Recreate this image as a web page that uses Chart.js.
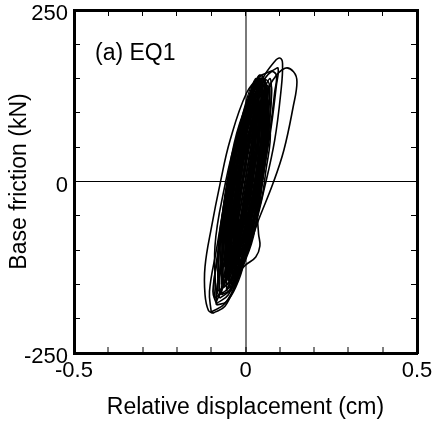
<!DOCTYPE html>
<html><head><meta charset="utf-8">
<script src="https://cdn.jsdelivr.net/npm/chart.js@4.4.1/dist/chart.umd.min.js"></script>
<style>html,body{margin:0;padding:0;background:#fff;overflow:hidden}canvas{display:block}</style>
</head><body>
<canvas id="c" width="432" height="421"></canvas>
<script>
// ---- text / ticks ----
const panelLabel = '(a) EQ1';
const xTitle = 'Relative displacement (cm)';
const yTitle = 'Base friction (kN)';
const xTickLabels = [-0.5, 0, 0.5];
const yTickLabels = [-250, 0, 250];

// ---- hysteresis loops: [displacement (cm), friction (kN)] ----
const loopA = [[-0.100,-190],[-0.060,-178],[-0.020,-140],[0.020,-80],[0.055,-10],[0.085,60],[0.103,130],[0.108,172],[0.100,180],[0.085,175],[0.050,150],[0.010,100],[-0.030,40],[-0.060,-30],[-0.085,-100],[-0.105,-160],[-0.100,-190]];
const loopB = [[-0.040,-150],[0.000,-110],[0.035,-60],[0.080,-3],[0.112,46],[0.139,109],[0.150,145],[0.140,160],[0.115,165],[0.080,148],[0.040,110],[0.000,50],[-0.030,-20],[-0.055,-90],[-0.055,-130],[-0.040,-150]];
const loopC = [[-0.095,-192],[-0.060,-182],[-0.030,-150],[0.000,-110],[0.030,-50],[0.055,20],[0.075,80],[0.090,140],[0.095,165],[0.080,162],[0.042,153],[0.003,129],[-0.045,60],[-0.074,-3],[-0.099,-66],[-0.118,-124],[-0.118,-165],[-0.108,-188],[-0.095,-192]];
const loopD = [[-0.085,-178],[-0.050,-165],[-0.020,-130],[0.015,-70],[0.045,0],[0.070,70],[0.085,130],[0.090,155],[0.075,160],[0.045,140],[0.010,95],[-0.025,30],[-0.055,-40],[-0.080,-110],[-0.095,-160],[-0.085,-178]];
const loopE = [[-0.075,-170],[-0.045,-158],[-0.010,-110],[0.020,-50],[0.045,20],[0.065,90],[0.070,140],[0.058,148],[0.035,130],[0.000,80],[-0.030,10],[-0.055,-60],[-0.075,-130],[-0.082,-160],[-0.075,-170]];
const loopF = [[-0.065,-155],[-0.035,-140],[0.000,-122],[0.030,-110],[0.042,-94],[0.038,-76],[0.035,-40],[0.050,30],[0.060,100],[0.058,140],[0.045,150],[0.025,135],[-0.005,90],[-0.035,20],[-0.055,-50],[-0.068,-120],[-0.065,-155]];
const loopG = [[-0.090,-170],[-0.040,-150],[0.000,-95],[0.030,-20],[0.050,60],[0.060,120],[0.055,150],[0.030,140],[0.000,100],[-0.035,40],[-0.062,-30],[-0.080,-100],[-0.092,-150],[-0.090,-170]];
const loopH = [[-0.080,-160],[-0.035,-140],[0.005,-80],[0.035,0],[0.055,80],[0.060,135],[0.050,150],[0.020,130],[-0.015,85],[-0.045,20],[-0.065,-50],[-0.080,-120],[-0.080,-160]];
const lowU1 = [[-0.070,-165],[-0.045,-158],[-0.020,-135],[0.000,-100],[0.010,-70],[-0.020,-60],[-0.045,-85],[-0.065,-125],[-0.070,-165]];
const lowU2 = [[-0.085,-180],[-0.055,-175],[-0.025,-150],[-0.005,-120],[0.005,-90],[-0.030,-85],[-0.060,-115],[-0.082,-150],[-0.085,-180]];
const core1 = [[-0.040,-130],[0.010,-60],[0.035,10],[0.050,80],[0.040,150],[-0.010,80],[-0.035,10],[-0.050,-60],[-0.040,-130]];
const core2 = [[-0.050,-140],[-0.004,-71],[0.020,-2],[0.036,66],[0.030,135],[-0.016,66],[-0.040,-2],[-0.056,-71],[-0.050,-140]];
const core3 = [[-0.030,-120],[0.010,-54],[0.033,13],[0.047,79],[0.045,145],[0.005,79],[-0.017,13],[-0.032,-54],[-0.030,-120]];
const core4 = [[-0.060,-125],[-0.013,-64],[0.012,-3],[0.030,59],[0.025,120],[-0.022,59],[-0.048,-3],[-0.065,-64],[-0.060,-125]];
const core5 = [[-0.035,-110],[-0.001,-51],[0.020,8],[0.035,66],[0.035,125],[0.001,66],[-0.020,8],[-0.035,-51],[-0.035,-110]];
const core6 = [[-0.045,-150],[0.013,-78],[0.043,-5],[0.060,68],[0.050,140],[-0.008,68],[-0.037,-5],[-0.055,-78],[-0.045,-150]];
const core7 = [[-0.020,-100],[0.010,-48],[0.028,5],[0.040,58],[0.040,110],[0.010,58],[-0.008,5],[-0.020,-48],[-0.020,-100]];
const core8 = [[-0.055,-135],[0.008,-63],[0.040,10],[0.058,83],[0.045,155],[-0.018,83],[-0.050,10],[-0.068,-63],[-0.055,-135]];
const core9 = [[-0.040,-115],[-0.006,-61],[0.012,-8],[0.024,46],[0.020,100],[-0.014,46],[-0.032,-8],[-0.044,-61],[-0.040,-115]];
const core10 = [[-0.025,-135],[0.018,-69],[0.041,-3],[0.055,64],[0.050,130],[0.007,64],[-0.015,-3],[-0.030,-69],[-0.025,-135]];
const core11 = [[-0.050,-120],[-0.009,-53],[0.015,15],[0.031,83],[0.030,150],[-0.011,83],[-0.035,15],[-0.051,-53],[-0.050,-120]];
const core12 = [[-0.030,-90],[-0.002,-45],[0.015,0],[0.028,45],[0.030,90],[0.002,45],[-0.015,0],[-0.028,-45],[-0.030,-90]];
const core13 = [[-0.075,-165],[-0.018,-89],[0.015,-13],[0.038,64],[0.035,140],[-0.022,64],[-0.055,-13],[-0.078,-89],[-0.075,-165]];
const core14 = [[-0.065,-150],[-0.013,-76],[0.017,-3],[0.040,71],[0.040,145],[-0.012,71],[-0.043,-3],[-0.065,-76],[-0.065,-150]];
const core15 = [[-0.085,-175],[-0.013,-94],[0.027,-13],[0.054,69],[0.050,150],[-0.022,69],[-0.063,-13],[-0.089,-94],[-0.085,-175]];
const core16 = [[-0.055,-145],[-0.015,-76],[0.007,-8],[0.022,61],[0.020,130],[-0.020,61],[-0.043,-8],[-0.057,-76],[-0.055,-145]];
const core17 = [[-0.045,-125],[0.006,-59],[0.035,8],[0.056,74],[0.055,140],[0.004,74],[-0.025,8],[-0.046,-59],[-0.045,-125]];
const core18 = [[-0.060,-140],[-0.019,-68],[0.007,5],[0.028,78],[0.035,150],[-0.006,78],[-0.033,5],[-0.053,-68],[-0.060,-140]];
const core19 = [[-0.030,-140],[0.019,-74],[0.043,-8],[0.056,59],[0.045,125],[-0.004,59],[-0.027,-8],[-0.041,-74],[-0.030,-140]];
const core20 = [[-0.050,-110],[0.006,-49],[0.035,13],[0.052,74],[0.040,135],[-0.016,74],[-0.045,13],[-0.062,-49],[-0.050,-110]];
const core21 = [[-0.040,-145],[-0.013,-73],[0.007,0],[0.023,73],[0.030,145],[0.003,73],[-0.017,0],[-0.033,-73],[-0.040,-145]];
const core22 = [[-0.070,-150],[-0.022,-85],[0.005,-20],[0.023,45],[0.020,110],[-0.029,45],[-0.055,-20],[-0.074,-85],[-0.070,-150]];
const core23 = [[-0.035,-125],[0.007,-56],[0.033,13],[0.050,81],[0.050,150],[0.008,81],[-0.017,13],[-0.035,-56],[-0.035,-125]];
const core24 = [[-0.055,-160],[-0.004,-86],[0.025,-13],[0.046,61],[0.045,135],[-0.006,61],[-0.035,-13],[-0.056,-86],[-0.055,-160]];
const wide1 = [[-0.035,-140],[0.026,-68],[0.051,5],[0.067,78],[0.048,150],[-0.013,78],[-0.039,5],[-0.054,-68],[-0.035,-140]];
const wide2 = [[-0.024,-120],[0.026,-55],[0.048,10],[0.063,75],[0.050,140],[0.000,75],[-0.022,10],[-0.037,-55],[-0.024,-120]];
const wide3 = [[-0.043,-150],[0.013,-80],[0.037,-10],[0.053,60],[0.037,130],[-0.019,60],[-0.043,-10],[-0.059,-80],[-0.043,-150]];
const wide4 = [[-0.016,-110],[0.027,-53],[0.046,5],[0.060,63],[0.049,120],[0.006,63],[-0.014,5],[-0.027,-53],[-0.016,-110]];
const wide5 = [[-0.040,-130],[0.007,-59],[0.031,13],[0.048,84],[0.041,155],[-0.006,84],[-0.029,13],[-0.047,-59],[-0.040,-130]];
const wide6 = [[-0.024,-100],[0.038,-41],[0.060,18],[0.072,76],[0.044,135],[-0.018,76],[-0.040,18],[-0.052,-41],[-0.024,-100]];
const wide7 = [[-0.047,-140],[0.003,-78],[0.024,-15],[0.038,48],[0.024,110],[-0.025,48],[-0.046,-15],[-0.061,-78],[-0.047,-140]];
const wide8 = [[-0.019,-125],[0.023,-58],[0.045,10],[0.062,78],[0.058,145],[0.017,78],[-0.005,10],[-0.022,-58],[-0.019,-125]];
const wide9 = [[-0.033,-145],[0.022,-78],[0.045,-10],[0.060,58],[0.044,125],[-0.012,58],[-0.035,-10],[-0.050,-78],[-0.033,-145]];
const wide10 = [[-0.031,-115],[0.006,-49],[0.027,18],[0.044,84],[0.045,150],[0.008,84],[-0.013,18],[-0.030,-49],[-0.031,-115]];
const wide11 = [[-0.043,-160],[0.017,-91],[0.042,-23],[0.057,46],[0.036,115],[-0.024,46],[-0.049,-23],[-0.064,-91],[-0.043,-160]];
const wide12 = [[-0.017,-90],[0.024,-43],[0.040,5],[0.051,53],[0.038,100],[-0.003,53],[-0.020,5],[-0.030,-43],[-0.017,-90]];
const band1 = [[-0.074,-130],[-0.035,-63],[-0.009,5],[0.012,73],[0.019,140],[-0.020,73],[-0.045,5],[-0.067,-63],[-0.074,-130]];
const band2 = [[-0.059,-130],[-0.020,-63],[0.006,5],[0.027,73],[0.034,140],[-0.005,73],[-0.030,5],[-0.052,-63],[-0.059,-130]];
const band3 = [[-0.044,-130],[-0.005,-63],[0.021,5],[0.042,73],[0.049,140],[0.010,73],[-0.015,5],[-0.037,-63],[-0.044,-130]];
const band4 = [[-0.029,-130],[0.010,-63],[0.036,5],[0.057,73],[0.064,140],[0.025,73],[0.000,5],[-0.022,-63],[-0.029,-130]];
const band5 = [[-0.019,-130],[0.020,-63],[0.046,5],[0.067,73],[0.074,140],[0.035,73],[0.010,5],[-0.012,-63],[-0.019,-130]];
const band6 = [[-0.059,-110],[-0.021,-53],[0.001,5],[0.019,63],[0.020,120],[-0.017,63],[-0.039,5],[-0.057,-53],[-0.059,-110]];
const band7 = [[-0.042,-110],[-0.004,-53],[0.018,5],[0.036,63],[0.037,120],[0.000,63],[-0.022,5],[-0.040,-53],[-0.042,-110]];
const band8 = [[-0.027,-110],[0.011,-53],[0.033,5],[0.051,63],[0.052,120],[0.015,63],[-0.007,5],[-0.025,-53],[-0.027,-110]];
const band9 = [[-0.015,-110],[0.023,-53],[0.045,5],[0.063,63],[0.064,120],[0.027,63],[0.005,5],[-0.013,-53],[-0.015,-110]];
const band10 = [[-0.069,-145],[-0.021,-71],[0.007,3],[0.030,76],[0.033,150],[-0.015,76],[-0.043,3],[-0.066,-71],[-0.069,-145]];
const band11 = [[-0.049,-145],[-0.001,-71],[0.027,3],[0.050,76],[0.053,150],[0.005,76],[-0.023,3],[-0.046,-71],[-0.049,-145]];
const band12 = [[-0.031,-145],[0.017,-71],[0.045,3],[0.068,76],[0.071,150],[0.023,76],[-0.005,3],[-0.028,-71],[-0.031,-145]];

const loops = [loopA, loopB, loopC, loopD, loopE, loopF, loopG, loopH, lowU1, lowU2,
  core1, core2, core3, core4, core5, core6, core7, core8, core9, core10, core11, core12,
  core13, core14, core15, core16, core17, core18, core19, core20, core21, core22, core23, core24,
  wide1, wide2, wide3, wide4, wide5, wide6, wide7, wide8, wide9, wide10, wide11, wide12,
  band1, band2, band3, band4, band5, band6, band7, band8, band9, band10, band11, band12];

const FONT = '"Liberation Sans", Arial, sans-serif';
const near = (a, b) => Math.abs(a - b) < 1e-9;

const datasets = loops.map(l => ({
  data: l.map(p => ({ x: p[0], y: p[1] })),
  borderColor: '#000', borderWidth: 1.6, pointRadius: 0, tension: 0.4, fill: false
}));

const panelLabelPlugin = {
  id: 'panelLabel',
  afterDatasetsDraw(chart) {
    const { ctx, chartArea } = chart;
    ctx.save();
    ctx.font = '23px ' + FONT;
    ctx.fillStyle = '#000';
    ctx.textBaseline = 'alphabetic';
    ctx.fillText(panelLabel, chartArea.left + 21, chartArea.top + 50);
    ctx.restore();
  }
};

const zeroColor = (col) => (c) => (c.tick && near(c.tick.value, 0)) ? col : 'rgba(0,0,0,0)';
const noPadH = s => { s.paddingLeft = 0; s.paddingRight = 0; };
const noPadV = s => { s.paddingTop = 0; s.paddingBottom = 0; };

new Chart(document.getElementById('c'), {
  type: 'line',
  data: { datasets },
  plugins: [panelLabelPlugin],
  options: {
    responsive: false, animation: false, devicePixelRatio: 1,
    layout: { padding: { top: 10, left: 0, right: 15, bottom: 0 } },
    plugins: { legend: { display: false }, tooltip: { enabled: false } },
    scales: {
      x: {
        type: 'linear', position: 'bottom', min: -0.5, max: 0.5,
        afterFit: s => { s.height = 68; noPadH(s); },
        ticks: {
          stepSize: 0.1, autoSkip: false, maxRotation: 0, padding: 11, color: '#000',
          font: { family: FONT, size: 22 },
          callback: v => xTickLabels.some(t => near(t, v)) ? String(xTickLabels.find(t => near(t, v))) : ''
        },
        grid: { drawOnChartArea: true, color: zeroColor('#7a7a7a'), lineWidth: 2, tickColor: '#000', tickLength: -6, tickWidth: 1 },
        border: { display: true, color: '#000', width: 3 },
        title: { display: true, text: xTitle, color: '#000', font: { family: FONT, size: 23 }, padding: { top: 0, bottom: 0 } }
      },
      x2: {
        type: 'linear', position: 'top', min: -0.5, max: 0.5,
        afterFit: s => { s.height = 0; noPadH(s); },
        ticks: { stepSize: 0.1, autoSkip: false, maxRotation: 0, callback: () => '' },
        grid: { drawOnChartArea: false, tickColor: '#000', tickLength: -6, tickWidth: 1 },
        border: { display: true, color: '#000', width: 3 }
      },
      y: {
        type: 'linear', position: 'left', min: -250, max: 250,
        afterFit: s => { s.width = 74; noPadV(s); },
        ticks: {
          stepSize: 50, autoSkip: false, padding: 12, labelOffset: 4, color: '#000',
          font: { family: FONT, size: 22 },
          callback: v => yTickLabels.some(t => near(t, v)) ? String(yTickLabels.find(t => near(t, v))) : ''
        },
        grid: { drawOnChartArea: true, color: zeroColor('#000'), lineWidth: 1, tickColor: '#000', tickLength: -6, tickWidth: 1 },
        border: { display: true, color: '#000', width: 3 },
        title: { display: true, text: yTitle, color: '#000', font: { family: FONT, size: 23 }, padding: { top: 6, bottom: 0 } }
      },
      y2: {
        type: 'linear', position: 'right', min: -250, max: 250,
        afterFit: s => { s.width = 0; noPadV(s); },
        ticks: { stepSize: 50, autoSkip: false, callback: () => '' },
        grid: { drawOnChartArea: false, tickColor: '#000', tickLength: -6, tickWidth: 1 },
        border: { display: true, color: '#000', width: 3 }
      }
    }
  }
});
</script>
</body></html>
